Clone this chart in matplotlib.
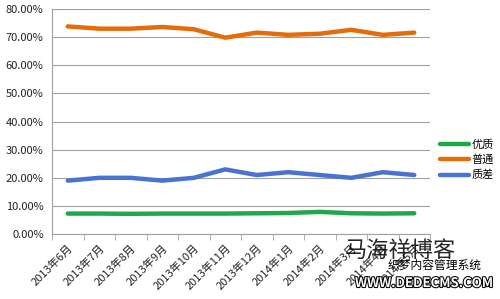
import matplotlib.pyplot as plt
import matplotlib.patheffects as pe
import numpy as np

plt.rcParams['font.family'] = ['Noto Sans CJK SC', 'DejaVu Sans']

months = ['2013年6月', '2013年7月', '2013年8月', '2013年9月', '2013年10月', '2013年11月',
          '2013年12月', '2014年1月', '2014年2月', '2014年3月', '2014年4月', '2014年5月']
youzhi = [7.3, 7.3, 7.2, 7.3, 7.3, 7.3, 7.4, 7.5, 7.9, 7.4, 7.3, 7.4]
putong = [73.8, 73.0, 73.0, 73.6, 72.8, 69.8, 71.6, 70.8, 71.2, 72.6, 70.8, 71.6]
zhicha = [19.0, 20.0, 20.0, 19.0, 20.0, 23.0, 21.0, 22.0, 21.0, 20.0, 22.0, 21.0]

fig = plt.figure(figsize=(5, 2.99), dpi=100)
ax = fig.add_axes([0.104, 0.217, 0.756, 0.753])

x = np.arange(len(months))
ax.plot(x, youzhi, color='#1fa84a', lw=3.2, label='优质', solid_capstyle='round')
ax.plot(x, putong, color='#e46c0a', lw=3.2, label='普通', solid_capstyle='round')
ax.plot(x, zhicha, color='#4a72d0', lw=3.2, label='质差', solid_capstyle='round')

ax.set_xlim(-0.5, len(months) - 0.5)
ax.set_ylim(0, 80)
ax.set_yticks(np.arange(0, 81, 10))
ax.set_yticklabels(['%.2f%%' % v for v in np.arange(0, 81, 10)], fontsize=8, color='#222222')
ax.yaxis.grid(True, color='#a0a0a0', lw=0.8)
ax.set_axisbelow(True)
ax.tick_params(axis='y', length=0, pad=6)

ax.set_xticks(x)
ax.set_xticklabels(months, rotation=45, ha='right', rotation_mode='anchor', fontsize=8, color='#222222')
ax.set_xticks(np.arange(-0.5, len(months), 1), minor=True)
ax.tick_params(axis='x', which='major', length=0, pad=6)
ax.tick_params(axis='x', which='minor', length=4, color='#a0a0a0')

for s in ['top', 'right']:
    ax.spines[s].set_visible(False)
ax.spines['left'].set_color('#a0a0a0')
ax.spines['bottom'].set_color('#a0a0a0')

ax.legend(loc='center left', bbox_to_anchor=(1.0, 0.33), frameon=False, fontsize=8,
          handlelength=2.6, labelspacing=0.45, handletextpad=0.2)

# watermark
fig.text(0.69, 0.125, '马海祥博客', fontsize=16, color='black', alpha=0.85, va='bottom')
fig.text(0.775, 0.09, '织梦内容管理系统', fontsize=8.5, color='black', va='bottom')
fig.text(0.71, 0.03, 'WWW.DEDECMS.COM', fontsize=9.5, fontweight='bold', color='white',
         va='bottom', path_effects=[pe.withStroke(linewidth=1.5, foreground='black')])

fig.savefig('out.png', dpi=100)
